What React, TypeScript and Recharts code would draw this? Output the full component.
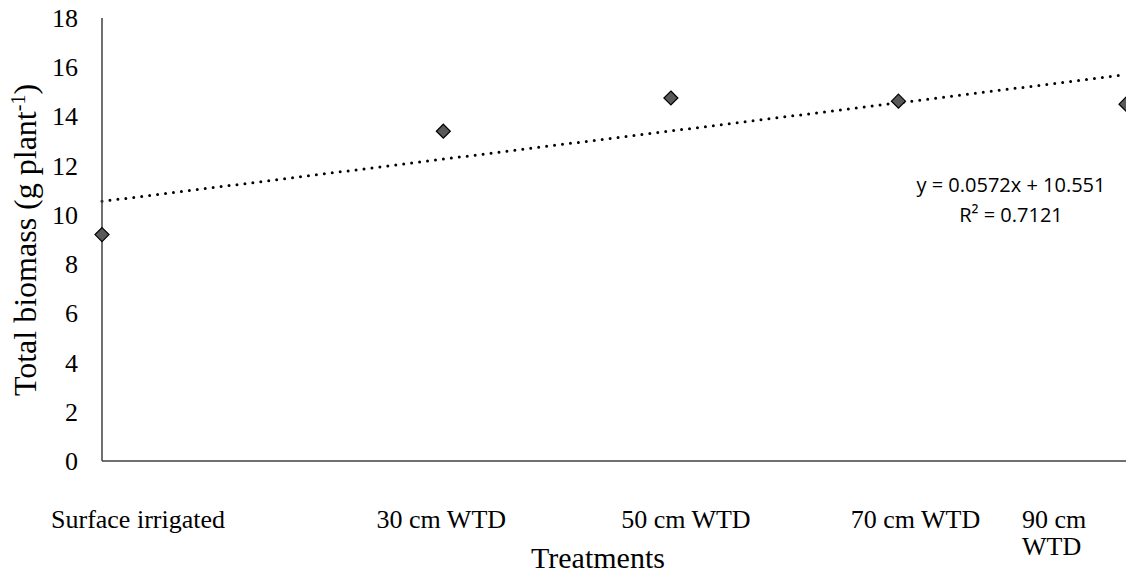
import React from "react";
import {
  ComposedChart,
  Scatter,
  XAxis,
  YAxis,
  ReferenceLine,
} from "recharts";

const treatments: string[] = [
  "Surface irrigated",
  "30 cm WTD",
  "50 cm WTD",
  "70 cm WTD",
  "90 cm WTD",
];
const depths: number[] = [0, 30, 50, 70, 90];
const biomass: number[] = [9.2, 13.4, 14.75, 14.62, 14.5];
const yTicks: number[] = [0, 2, 4, 6, 8, 10, 12, 14, 16, 18];

const slope = 0.0572;
const intercept = 10.551;

const points = depths.map((d, i) => ({ x: d, y: biomass[i] }));

// where each category label sits relative to its tick (Excel-like layout)
const labelShift: number[] = [36, -2, 15, 17, -104];

const font = "'Liberation Serif', 'Times New Roman', serif";
const sans = "'Open Sans', 'Noto Sans', sans-serif";

const Diamond = (props: any) => {
  const { cx, cy } = props;
  const s = 7;
  return (
    <polygon
      points={`${cx},${cy - s} ${cx + s},${cy} ${cx},${cy + s} ${cx - s},${cy}`}
      fill="#595959"
      stroke="#000"
      strokeWidth={1.2}
    />
  );
};

const XTick = (props: any) => {
  const { x, y, index } = props;
  const label = treatments[index];
  const lx = x + labelShift[index];
  if (index === 4) {
    const parts = label.split(" ");
    return (
      <text x={lx} y={y + 59} fontFamily={font} fontSize={26} fill="#000" textAnchor="start">
        <tspan x={lx}>{parts[0] + " " + parts[1]}</tspan>
        <tspan x={lx} dy={27}>{parts[2]}</tspan>
      </text>
    );
  }
  return (
    <text x={lx} y={y + 59} fontFamily={font} fontSize={26} fill="#000" textAnchor="middle">
      {label}
    </text>
  );
};

const YTick = (props: any) => {
  const { y, payload } = props;
  return (
    <text x={78} y={y + 9} fontFamily={font} fontSize={26} fill="#000" textAnchor="end">
      {payload.value}
    </text>
  );
};

const App: React.FC = () => {
  return (
    <div style={{ position: "absolute", left: 0, top: 0 }}>
      <ComposedChart
        width={1126}
        height={582}
        data={points}
        margin={{ top: 18, right: 0, bottom: 0, left: 0 }}
      >
        <XAxis
          type="number"
          dataKey="x"
          domain={[0, 90]}
          ticks={depths}
          tick={<XTick />}
          tickLine={false}
          axisLine={{ stroke: "#404040", strokeWidth: 1.5 }}
          height={121}
          interval={0}
          label={{
            content: () => (
              <text x={598} y={568} textAnchor="middle" fontFamily={font} fontSize={30} fill="#000">
                Treatments
              </text>
            ),
          }}
        />
        <YAxis
          type="number"
          domain={[0, 18]}
          ticks={yTicks}
          width={102}
          tickLine={false}
          tick={<YTick />}
          interval={0}
          axisLine={{ stroke: "#404040", strokeWidth: 1.5 }}
          label={{
            content: () => (
              <text
                x={36}
                y={240}
                transform="rotate(-90 36 240)"
                textAnchor="middle"
                fontFamily={font}
                fontSize={32}
                fill="#000"
              >
                Total biomass (g plant
                <tspan dy={-11} fontSize={20}>-1</tspan>
                <tspan dy={11}>)</tspan>
              </text>
            ),
          }}
        />
        <ReferenceLine
          segment={[
            { x: 0, y: intercept },
            { x: 90, y: intercept + slope * 90 },
          ]}
          stroke="#000"
          strokeWidth={3}
          strokeDasharray="0 8"
          strokeLinecap="round"
          ifOverflow="visible"
        />
        <Scatter
          dataKey="y"
          shape={<Diamond />}
          isAnimationActive={false}
        />
        <g>
          <text x={1011} y={192} textAnchor="middle" fontFamily={sans} fontSize={20} fill="#000">
            y = 0.0572x + 10.551
          </text>
          <text x={1011} y={222} textAnchor="middle" fontFamily={sans} fontSize={20} fill="#000">
            R² = 0.7121
          </text>
        </g>
      </ComposedChart>
    </div>
  );
};

export default App;
